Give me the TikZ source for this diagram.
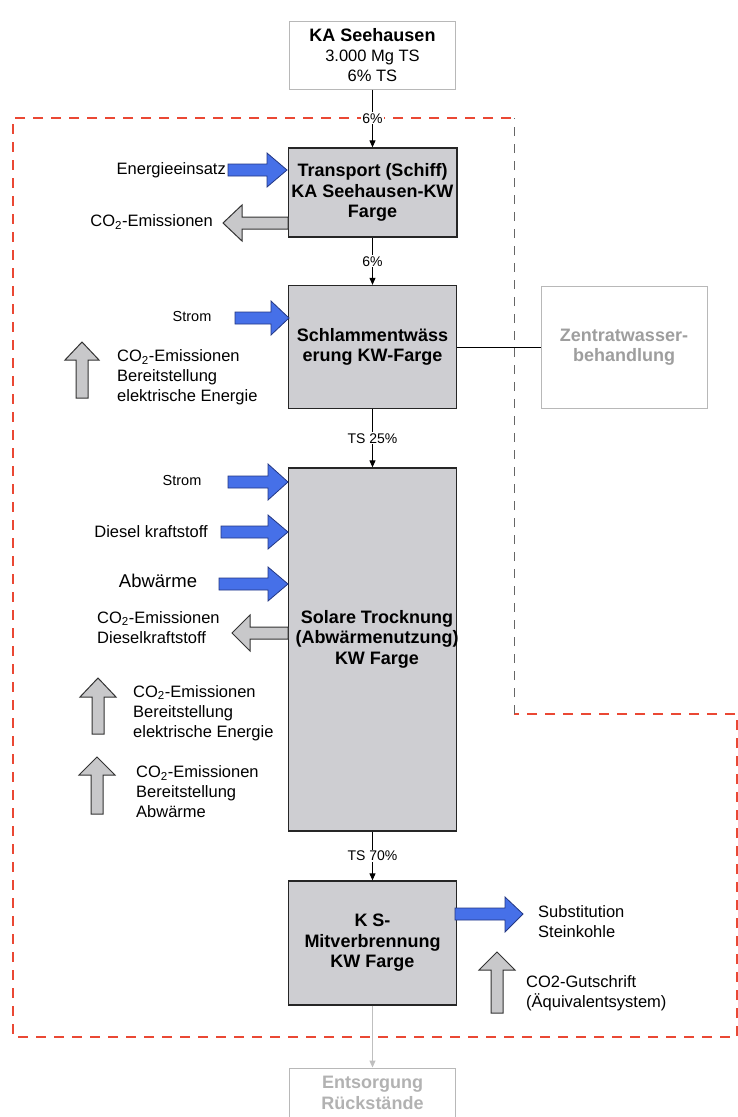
\documentclass[tikz,border=0pt]{standalone}
\usepackage{fontspec}
\setmainfont{Liberation Sans}
\usetikzlibrary{arrows.meta}
\definecolor{boxgray}{RGB}{206,206,210}
\definecolor{inblue}{RGB}{70,112,232}
\definecolor{inblueline}{RGB}{35,55,130}
\definecolor{outgray}{RGB}{200,200,202}
\definecolor{limitred}{RGB}{234,72,52}

\begin{document}
\begin{tikzpicture}[x=1pt,y=-1pt,font=\fontsize{16.5}{20}\selectfont,
    >={Triangle[width=6pt,length=7pt]},
    procbox/.style={draw=black!85,line width=1.3pt,fill=boxgray,
        minimum width=168pt,align=center,
        font=\fontsize{18}{20.5}\selectfont\bfseries},
    extbox/.style={draw=black!28,line width=1pt,fill=white,
        minimum width=166pt,align=center},
    flow/.style={->,line width=1pt},
    pct/.style={fill=white,inner sep=1pt,font=\fontsize{14}{16}\selectfont},
    inflow/.style={fill=inblue,draw=inblueline,line width=0.8pt},
    outflow/.style={fill=outgray,draw=black!80,line width=1pt},
    txt/.style={inner sep=0pt,align=left}]
    \clip (0,0) rectangle (738,1117);

    % Bilanzgrenze
    \draw[limitred,line width=1.6pt,dash pattern=on 10pt off 8pt]
        (511,118) -- (13,118) -- (13,1037) -- (737,1037) -- (737,714) -- (514,714);
    \draw[black!60,line width=1pt,dash pattern=on 9pt off 8pt]
        (514,714) -- (514,118);

    % Prozesskette
    \node[extbox,minimum height=68pt] (ka) at (372.5,55)
        {\fontsize{18}{20.5}\selectfont\textbf{KA Seehausen}\\3.000 Mg TS\\6\% TS};
    \node[procbox,minimum height=89pt] (trans) at (372.5,192.5)
        {Transport (Schiff)\\KA Seehausen-KW\\Farge};
    \node[procbox,minimum height=123pt] (schl) at (372.5,347)
        {Schlammentwäss\\erung KW-Farge};
    \node[procbox,minimum height=363pt] (sol) at (372.5,649.5) {};
    \node[font=\fontsize{18}{20.5}\selectfont\bfseries,align=center]
        (soltext) at (377,639)
        {Solare Trocknung\\(Abwärmenutzung)\\KW Farge};
    \node[procbox,minimum height=124pt] (ks) at (372.5,943)
        {K S-\\Mitverbrennung\\KW Farge};
    \node[extbox,minimum height=122pt,text=black!38,
        font=\fontsize{18}{20.5}\selectfont\bfseries] (zent) at (624,347)
        {Zentratwasser-\\behandlung};
    \node[extbox,minimum height=50pt,text=black!30,
        font=\fontsize{18}{20.5}\selectfont\bfseries] (ents) at (372.5,1093)
        {Entsorgung\\Rückstände};

    \draw[flow] (ka) -- node[pct] {6\%} (trans);
    \draw[flow] (trans) -- node[pct] {6\%} (schl);
    \draw[flow] (schl) -- node[pct] {TS 25\%} (sol);
    \draw[flow] (sol) -- node[pct] {TS 70\%} (ks);
    \draw[flow,black!25] (ks) -- (ents);
    \draw[line width=1pt] (schl) -- (zent);

    % Transport
    \draw[inflow] (228,164) -- (267,164) -- (267,153) -- (287,170)
        -- (267,187) -- (267,176) -- (228,176) -- cycle;
    \node[txt,anchor=east] (energie) at (226,170) {Energieeinsatz};
    \draw[outflow] (288,217) -- (242,217) -- (242,205) -- (223,223)
        -- (242,241) -- (242,229) -- (288,229) -- cycle;
    \node[txt,anchor=east] (co2trans) at (213,222) {CO\textsubscript{2}-Emissionen};

    % Entwaesserung
    \draw[inflow] (235,312) -- (271,312) -- (271,301) -- (289,318)
        -- (271,335) -- (271,324) -- (235,324) -- cycle;
    \node[txt,font=\fontsize{14.5}{17}\selectfont] (strom1) at (192,317) {Strom};
    \draw[outflow] (76,398) -- (76,360) -- (65,360) -- (82,342)
        -- (99,360) -- (88,360) -- (88,398) -- cycle;
    \node[txt,anchor=west] (co2strom1) at (117,377.5)
        {CO\textsubscript{2}-Emissionen\\Bereitstellung\\elektrische Energie};

    % Trocknung
    \draw[inflow] (228,476) -- (268,476) -- (268,464) -- (288,482)
        -- (268,500) -- (268,488) -- (228,488) -- cycle;
    \node[txt,font=\fontsize{14.5}{17}\selectfont] (strom2) at (182,481) {Strom};
    \draw[inflow] (221,526) -- (268,526) -- (268,515) -- (288,532)
        -- (268,549) -- (268,538) -- (221,538) -- cycle;
    \node[txt,anchor=east] (diesel) at (208,532) {Diesel kraftstoff};
    \draw[inflow] (219,578) -- (268,578) -- (268,567) -- (288,584)
        -- (268,601) -- (268,590) -- (219,590) -- cycle;
    \node[txt,font=\fontsize{18.5}{22}\selectfont] (abw) at (158,581) {Abwärme};
    \draw[outflow] (288,627) -- (250,627) -- (250,615) -- (232,633)
        -- (250,651) -- (250,639) -- (288,639) -- cycle;
    \node[txt,anchor=west] (co2diesel) at (97,627.5)
        {CO\textsubscript{2}-Emissionen\\Dieselkraftstoff};
    \draw[outflow] (92,734) -- (92,697) -- (80,697) -- (98,678)
        -- (116,697) -- (104,697) -- (104,734) -- cycle;
    \node[txt,anchor=west] (co2strom2) at (133,713)
        {CO\textsubscript{2}-Emissionen\\Bereitstellung\\elektrische Energie};
    \draw[outflow] (91,814) -- (91,775) -- (79,775) -- (97,757)
        -- (115,775) -- (103,775) -- (103,814) -- cycle;
    \node[txt,anchor=west] (co2abw) at (136,792)
        {CO\textsubscript{2}-Emissionen\\Bereitstellung\\Abwärme};

    % Mitverbrennung
    \draw[inflow] (455,908) -- (505,908) -- (505,897) -- (523,914)
        -- (505,932) -- (505,920) -- (455,920) -- cycle;
    \node[txt,anchor=west] (subst) at (538,921.5)
        {Substitution\\Steinkohle};
    \draw[outflow] (491,1013) -- (491,970) -- (479,970) -- (497,952)
        -- (515,970) -- (503,970) -- (503,1013) -- cycle;
    \node[txt,anchor=west] (gutschrift) at (526,993)
        {CO2-Gutschrift\\(Äquivalentsystem)};
\end{tikzpicture}
\end{document}
